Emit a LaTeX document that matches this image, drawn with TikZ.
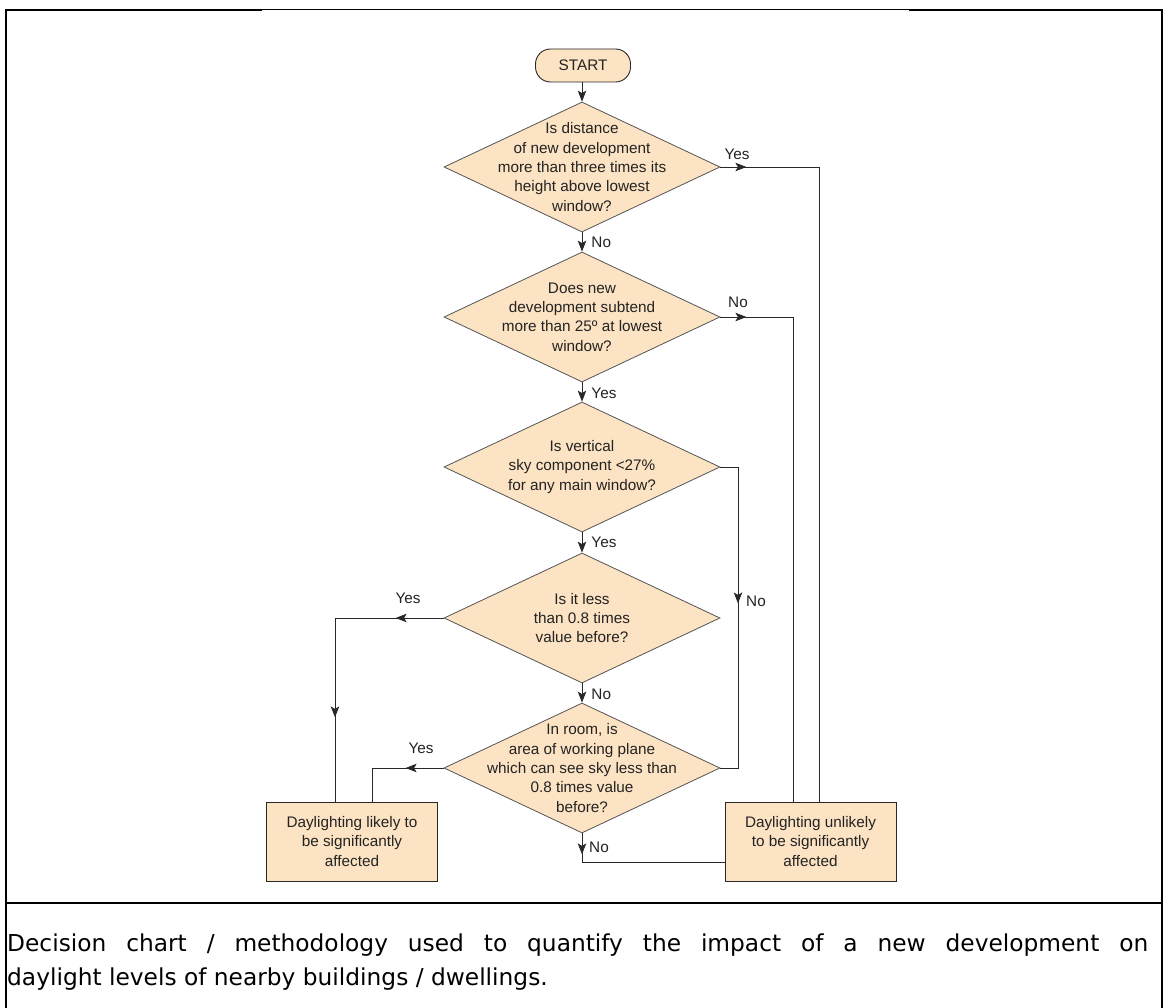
\documentclass[tikz,border=0pt]{standalone}
\usepackage{fontspec}
\setmainfont{Liberation Sans}
\newfontfamily\capfont{DejaVu Sans}
\usetikzlibrary{shapes.geometric,arrows.meta,decorations.markings,calc}
\definecolor{peach}{RGB}{252,227,195}
\definecolor{edgec}{RGB}{85,85,85}
\definecolor{lnc}{RGB}{40,40,40}
\definecolor{txc}{RGB}{35,35,35}
\begin{document}
\begin{tikzpicture}[x=1pt,y=-1pt,
  dec/.style={diamond, draw=edgec, fill=peach, line width=0.8pt, minimum width=276pt, minimum height=130pt, inner sep=0pt},
  dtext/.style={font=\fontsize{15.3}{19.3}\selectfont, align=center, text=txc, inner sep=0pt},
  boxn/.style={rectangle, draw=lnc, fill=peach, line width=0.9pt, minimum width=171pt, minimum height=79pt, inner sep=0pt, font=\fontsize{15.3}{19.3}\selectfont, align=center, text=txc},
  startn/.style={rectangle, rounded corners=15pt, draw=lnc, fill=peach, line width=0.9pt, minimum width=95pt, minimum height=33pt, inner sep=0pt, font=\fontsize{15.3}{18}\selectfont, text=txc},
  conn/.style={draw=lnc, line width=0.9pt},
  tip/.style={-{Stealth[length=11pt,width=8.5pt,inset=2.5pt]}},
  arr/.style={conn, tip},
  lab/.style={font=\fontsize{15.3}{18}\selectfont, text=txc, inner sep=0pt},
  mk/.style={postaction={decorate}, decoration={markings, mark=at position #1 with {\arrow[lnc]{Stealth[length=11pt,width=8.5pt,inset=2.5pt]}}}},
]
\useasboundingbox (0,0) rectangle (1165,1008);
\fill[white] (0,0) rectangle (1165,1008);

% frame
\draw[black, line width=1.6pt] (6,10) -- (6,1008);
\draw[black, line width=1.6pt] (1162,10) -- (1162,1008);
\draw[black, line width=2.4pt] (5.2,10) -- (262,10);
\draw[black, line width=1pt] (262,10) -- (909,10);
\draw[black, line width=2.4pt] (909,10) -- (1162.8,10);
\draw[black, line width=2.6pt] (6,903) -- (1162,903);

% nodes
\node[startn] (start) at (583,65.5) {START};
\node[dec] (d1) at (582,167) {};
\node[dtext] (d1t) at (d1) {Is distance\\of new development\\more than three times its\\height above lowest\\window?};
\node[dec] (d2) at (582,317) {};
\node[dtext] (d2t) at (d2) {Does new\\development subtend\\more than 25º at lowest\\window?};
\node[dec] (d3) at (582,467) {};
\node[dtext] (d3t) at (d3) {Is vertical\\sky component <27\%\\for any main window?};
\node[dec] (d4) at (582,618) {};
\node[dtext] (d4t) at (d4) {Is it less\\than 0.8 times\\value before?};
\node[dec] (d5) at (582,768) {};
\node[dtext] (d5t) at (d5) {In room, is\\area of working plane\\which can see sky less than\\0.8 times value\\before?};
\node[boxn] (lik) at (352,841.5) {Daylighting likely to\\be significantly\\affected};
\node[boxn] (unl) at (810.5,841.5) {Daylighting unlikely\\to be significantly\\affected};

% bend points
\coordinate (r1) at (819,167);
\coordinate (r2) at (793,317);
\coordinate (r3) at (738,467);
\coordinate (l4) at (335,618);
\coordinate (l5) at (372,768);
\coordinate (b5) at (582,862);

% vertical flow
\draw[arr] (start.south -| d1.north) -- (d1.north);
\draw[arr] (d1.south) -- node[lab, right, xshift=9pt] (n1) {No} (d2.north);
\draw[arr] (d2.south) -- node[lab, right, xshift=9pt, yshift=-1pt] (y2) {Yes} (d3.north);
\draw[arr] (d3.south) -- node[lab, right, xshift=9pt] (y3) {Yes} (d4.north);
\draw[arr] (d4.south) -- node[lab, right, xshift=9pt, yshift=-1pt] (n4) {No} (d5.north);

% side connectors
\draw[conn, mk=26pt] (d1.east) -- (r1) -- (r1 |- unl.north);
\node[lab] (y1) at (737,154) {Yes};
\draw[conn, mk=26pt] (d2.east) -- (r2) -- (r2 |- unl.north);
\node[lab] (n2) at (738,302) {No};
\draw[conn, mk=154pt] (d3.east) -- (r3) -- (r3 |- d5.east) -- (d5.east);
\node[lab] (n3) at (756,601) {No};
\draw[conn, postaction={decorate}, decoration={markings,
   mark=at position 48pt with {\arrow[lnc]{Stealth[length=11pt,width=8.5pt,inset=2.5pt]}},
   mark=at position 208pt with {\arrow[lnc]{Stealth[length=11pt,width=8.5pt,inset=2.5pt]}}}]
   (d4.west) -- (l4) -- (l4 |- lik.north);
\node[lab] (y4) at (408,598) {Yes};
\draw[conn, mk=38pt] (d5.west) -- (l5) -- (l5 |- lik.north);
\node[lab] (y5) at (421,748) {Yes};
\draw[conn, mk=21pt] (d5.south) -- (b5) -- (b5 -| unl.west);
\node[lab] (n5) at (599,847) {No};

% caption
\node[anchor=north west, inner sep=0pt, text width=1141pt, align=justify,
      font=\capfont\fontsize{23.3}{34}\selectfont] (cap) at (7,934)
  {Decision chart / methodology used to quantify the impact of a new development on\linebreak daylight levels of nearby buildings / dwellings.};
\end{tikzpicture}
\end{document}
